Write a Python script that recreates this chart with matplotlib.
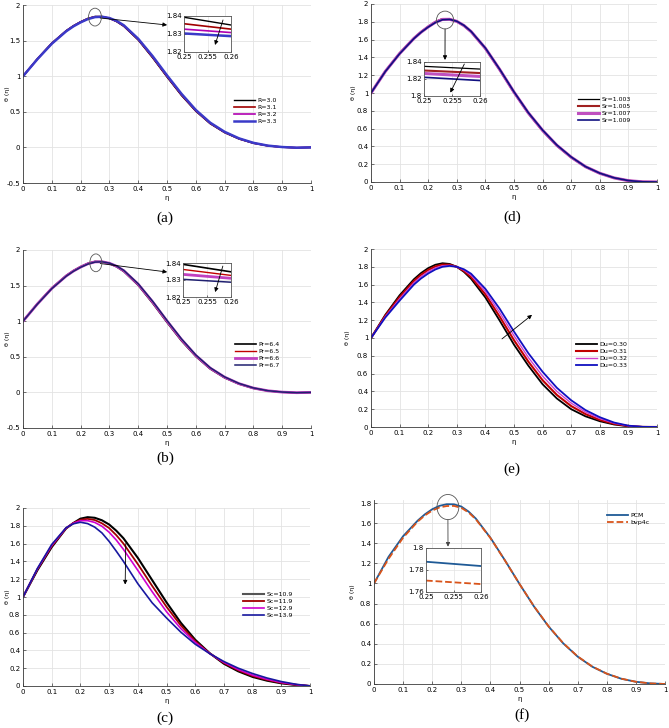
import numpy as np
import matplotlib
matplotlib.use("Agg")
import matplotlib.pyplot as plt
from matplotlib.patches import Ellipse
from matplotlib.ticker import FuncFormatter

# eta grid shared by all panels (denser around the peak)
eta = [0.00, 0.05, 0.10, 0.15, 0.175, 0.20, 0.225, 0.25, 0.275, 0.30, 0.325, 0.35, 0.40,
       0.45, 0.50, 0.55, 0.60, 0.65, 0.70, 0.75, 0.80, 0.85, 0.90, 0.95, 1.00]

# (a) radiation parameter R
labels_R = ["R=3.0", "R=3.1", "R=3.2", "R=3.3"]
theta_R30 = [1.000, 1.245, 1.465, 1.640, 1.709, 1.765, 1.812, 1.839, 1.837, 1.811, 1.766, 1.700, 1.508, 1.258, 0.988, 0.730, 0.508, 0.332, 0.207, 0.118, 0.058, 0.022, 0.003, -0.005, 0.000]
theta_R31 = [1.000, 1.243, 1.462, 1.637, 1.706, 1.762, 1.808, 1.836, 1.836, 1.813, 1.770, 1.705, 1.514, 1.266, 0.996, 0.738, 0.514, 0.337, 0.211, 0.121, 0.060, 0.023, 0.004, -0.005, 0.000]
theta_R32 = [1.000, 1.241, 1.459, 1.634, 1.703, 1.759, 1.805, 1.833, 1.835, 1.815, 1.773, 1.710, 1.520, 1.274, 1.004, 0.746, 0.520, 0.342, 0.215, 0.124, 0.062, 0.024, 0.004, -0.004, 0.000]
theta_R33 = [1.000, 1.239, 1.456, 1.631, 1.700, 1.756, 1.802, 1.830, 1.835, 1.817, 1.777, 1.715, 1.526, 1.282, 1.012, 0.754, 0.526, 0.347, 0.219, 0.127, 0.064, 0.025, 0.005, -0.004, 0.000]

# (b) Prandtl number Pr
labels_Pr = ["Pr=6.4", "Pr=6.5", "Pr=6.6", "Pr=6.7"]
theta_Pr64 = [1.000, 1.246, 1.466, 1.641, 1.710, 1.766, 1.812, 1.839, 1.836, 1.810, 1.764, 1.698, 1.505, 1.254, 0.984, 0.726, 0.505, 0.330, 0.205, 0.117, 0.057, 0.021, 0.003, -0.005, 0.000]
theta_Pr65 = [1.000, 1.244, 1.463, 1.638, 1.707, 1.763, 1.809, 1.836, 1.835, 1.812, 1.769, 1.704, 1.512, 1.263, 0.993, 0.735, 0.512, 0.336, 0.210, 0.120, 0.059, 0.022, 0.004, -0.005, 0.000]
theta_Pr66 = [1.000, 1.242, 1.460, 1.635, 1.704, 1.760, 1.806, 1.833, 1.835, 1.814, 1.772, 1.709, 1.519, 1.272, 1.002, 0.744, 0.519, 0.341, 0.214, 0.123, 0.061, 0.023, 0.004, -0.004, 0.000]
theta_Pr67 = [1.000, 1.240, 1.457, 1.632, 1.701, 1.757, 1.802, 1.830, 1.834, 1.816, 1.776, 1.714, 1.526, 1.281, 1.011, 0.753, 0.526, 0.347, 0.218, 0.126, 0.063, 0.024, 0.005, -0.004, 0.000]

# (c) Schmidt number Sc
labels_Sc = ["Sc=10.9", "Sc=11.9", "Sc=12.9", "Sc=13.9"]
theta_Sc109 = [1.000, 1.300, 1.560, 1.770, 1.830, 1.880, 1.897, 1.890, 1.862, 1.815, 1.745, 1.660, 1.440, 1.190, 0.940, 0.710, 0.520, 0.370, 0.250, 0.165, 0.102, 0.060, 0.030, 0.012, 0.000]
theta_Sc119 = [1.000, 1.310, 1.570, 1.772, 1.830, 1.868, 1.878, 1.865, 1.828, 1.775, 1.695, 1.600, 1.370, 1.125, 0.890, 0.680, 0.505, 0.368, 0.258, 0.175, 0.112, 0.068, 0.035, 0.014, 0.000]
theta_Sc129 = [1.000, 1.315, 1.580, 1.775, 1.828, 1.857, 1.858, 1.838, 1.795, 1.728, 1.640, 1.535, 1.300, 1.060, 0.835, 0.645, 0.490, 0.366, 0.266, 0.185, 0.122, 0.076, 0.040, 0.016, 0.000]
theta_Sc139 = [1.000, 1.320, 1.590, 1.778, 1.822, 1.840, 1.825, 1.785, 1.720, 1.625, 1.515, 1.400, 1.150, 0.935, 0.765, 0.605, 0.470, 0.365, 0.275, 0.200, 0.140, 0.090, 0.050, 0.020, 0.000]

# (d) Soret number Sr
labels_Sr = ["Sr=1.003", "Sr=1.005", "Sr=1.007", "Sr=1.009"]
theta_Sr1003 = [1.000, 1.244, 1.447, 1.617, 1.687, 1.747, 1.801, 1.835, 1.832, 1.803, 1.754, 1.686, 1.496, 1.258, 1.004, 0.771, 0.574, 0.406, 0.275, 0.170, 0.096, 0.045, 0.014, 0.002, 0.000]
theta_Sr1005 = [1.000, 1.243, 1.445, 1.615, 1.685, 1.745, 1.798, 1.831, 1.830, 1.804, 1.756, 1.688, 1.499, 1.261, 1.007, 0.774, 0.577, 0.409, 0.277, 0.171, 0.097, 0.046, 0.015, 0.002, 0.000]
theta_Sr1007 = [1.000, 1.242, 1.443, 1.613, 1.683, 1.743, 1.795, 1.827, 1.828, 1.805, 1.758, 1.690, 1.502, 1.264, 1.010, 0.777, 0.580, 0.412, 0.279, 0.172, 0.098, 0.046, 0.015, 0.002, 0.000]
theta_Sr1009 = [1.000, 1.241, 1.441, 1.611, 1.682, 1.741, 1.791, 1.823, 1.827, 1.806, 1.760, 1.692, 1.505, 1.267, 1.013, 0.780, 0.583, 0.415, 0.281, 0.173, 0.099, 0.047, 0.016, 0.002, 0.000]

# (e) Dufour number Du
labels_Du = ["Du=0.30", "Du=0.31", "Du=0.32", "Du=0.33"]
theta_Du30 = [1.000, 1.260, 1.480, 1.660, 1.730, 1.785, 1.823, 1.840, 1.832, 1.800, 1.743, 1.665, 1.455, 1.195, 0.925, 0.690, 0.480, 0.320, 0.200, 0.120, 0.065, 0.028, 0.008, 0.001, 0.000]
theta_Du31 = [1.000, 1.250, 1.460, 1.640, 1.710, 1.765, 1.804, 1.825, 1.823, 1.800, 1.753, 1.685, 1.490, 1.240, 0.975, 0.735, 0.525, 0.360, 0.235, 0.145, 0.080, 0.036, 0.011, 0.001, 0.000]
theta_Du32 = [1.000, 1.240, 1.440, 1.620, 1.690, 1.745, 1.787, 1.812, 1.816, 1.800, 1.763, 1.705, 1.522, 1.285, 1.025, 0.782, 0.572, 0.400, 0.268, 0.168, 0.095, 0.043, 0.013, 0.002, 0.000]
theta_Du33 = [1.000, 1.230, 1.420, 1.600, 1.669, 1.725, 1.770, 1.800, 1.810, 1.800, 1.772, 1.722, 1.552, 1.328, 1.072, 0.830, 0.620, 0.440, 0.300, 0.190, 0.110, 0.050, 0.015, 0.002, 0.000]

# (f) method comparison
labels_method = ["PCM", "bvp4c"]
theta_pcm = [1.000, 1.265, 1.470, 1.625, 1.688, 1.738, 1.772, 1.788, 1.787, 1.765, 1.715, 1.645, 1.455, 1.230, 0.995, 0.770, 0.572, 0.405, 0.272, 0.172, 0.102, 0.052, 0.022, 0.006, 0.000]
theta_bvp = [1.000, 1.245, 1.455, 1.615, 1.677, 1.725, 1.756, 1.770, 1.771, 1.752, 1.706, 1.638, 1.452, 1.228, 0.995, 0.772, 0.574, 0.407, 0.274, 0.174, 0.103, 0.053, 0.022, 0.006, 0.000]

# zoomed windows (eta = 0.25 ... 0.26)
eta_zoom = [0.25, 0.26]
zoom_R = [[1.8393, 1.8350], [1.8357, 1.8327], [1.8327, 1.8308], [1.8303, 1.8288]]
zoom_Pr = [[1.8392, 1.8348], [1.8362, 1.8327], [1.8333, 1.8310], [1.8304, 1.8287]]
zoom_Sr = [[1.8349, 1.8317], [1.8300, 1.8270], [1.8265, 1.8230], [1.8220, 1.8182]]
zoom_method = [[1.7875, 1.7836], [1.7704, 1.7672]]

W, H = 669, 728
fig = plt.figure(figsize=(W / 100, H / 100), dpi=100)
fmt = FuncFormatter(lambda v, _: f"{v:g}")
GRID = "#e3e3e3"
AXC = "#3a3a3a"


def add_axes(l, t, r, b):
    # pixel box (top-left origin) -> figure fraction
    return fig.add_axes([l / W, 1 - b / H, (r - l) / W, (b - t) / H])


def style(ax, yticks, ylim, ylab_x):
    ax.set_xlim(0, 1)
    ax.set_xticks(np.arange(0, 1.001, 0.1))
    ax.set_ylim(*ylim)
    ax.set_yticks(yticks)
    ax.xaxis.set_major_formatter(fmt)
    ax.yaxis.set_major_formatter(fmt)
    for s in ["top", "right"]:
        ax.spines[s].set_visible(False)
    for s in ["left", "bottom"]:
        ax.spines[s].set_color(AXC)
        ax.spines[s].set_linewidth(0.6)
    ax.grid(True, color=GRID, lw=0.6)
    ax.set_axisbelow(True)
    ax.tick_params(labelsize=5, length=2, width=0.5, direction="in", color=AXC, pad=2)
    ax.set_xlabel("η", fontsize=5, labelpad=2)
    ax.set_ylabel("θ (η)", fontsize=4.5)
    ax.yaxis.set_label_coords(ylab_x, 0.5)


def inset(box, series, colors, widths, ylim, yticks, styles=None):
    axi = add_axes(*box)
    for i, (ys, c, w) in enumerate(zip(series, colors, widths)):
        ls = styles[i] if styles else "-"
        axi.plot(eta_zoom, ys, color=c, lw=w, ls=ls)
    axi.set_xlim(0.25, 0.26)
    axi.set_xticks([0.25, 0.255, 0.26])
    axi.set_ylim(*ylim)
    axi.set_yticks(yticks)
    axi.xaxis.set_major_formatter(fmt)
    axi.yaxis.set_major_formatter(fmt)
    for s in axi.spines.values():
        s.set_color("#555555")
        s.set_linewidth(0.6)
    axi.grid(True, color=GRID, lw=0.5)
    axi.tick_params(labelsize=5, length=1.5, width=0.4, direction="in", pad=1.5)
    return axi


def legend(ax, x, y):
    ax.legend(loc="upper left", bbox_to_anchor=(x / W, 1 - y / H), bbox_transform=fig.transFigure,
              frameon=False, fontsize=4.5, handlelength=3.4, handletextpad=0.4,
              labelspacing=0.25, borderpad=0, borderaxespad=0)


def arrow(ax, start, end, end_coords="data", color="k"):
    ax.annotate("", xy=end, xycoords=end_coords, xytext=start, textcoords="data",
                arrowprops=dict(arrowstyle="-|>", lw=0.6, color=color, mutation_scale=6,
                                shrinkA=0, shrinkB=0), annotation_clip=False)


def circle(ax, xy, w, h):
    ax.add_patch(Ellipse(xy, w, h, fill=False, ec="#555555", lw=0.6, zorder=5, clip_on=False))


def draw(ax, series, labels, colors, widths, styles=None):
    for i, (ys, lab, c, w) in enumerate(zip(series, labels, colors, widths)):
        ls = styles[i] if styles else "-"
        ax.plot(eta, ys, color=c, lw=w, ls=ls, label=lab)


# ---- (a)
ax = add_axes(23, 5, 311, 183)
col_a = ["#000000", "#a00000", "#b000b0", "#3a3ac8"]
wid_a = [1.0, 1.2, 1.2, 1.8]
draw(ax, [theta_R30, theta_R31, theta_R32, theta_R33], labels_R, col_a, wid_a)
style(ax, np.arange(-0.5, 2.01, 0.5), (-0.5, 2), -0.045)
legend(ax, 234, 98)
circle(ax, (0.25, 1.83), 0.045, 0.25)
axi = inset((184, 16, 231, 52), zoom_R, col_a, wid_a, (1.82, 1.84), [1.82, 1.83, 1.84])
arrow(ax, (0.268, 1.817), (-0.36, 0.75), axi.transAxes)
arrow(axi, (0.2583, 1.8378), (0.2566, 1.8239))

# ---- (b)
ax = add_axes(23, 250, 311, 428)
col_b = ["#000000", "#c00000", "#c040c0", "#202070"]
wid_b = [1.2, 1.0, 2.0, 1.1]
draw(ax, [theta_Pr64, theta_Pr65, theta_Pr66, theta_Pr67], labels_Pr, col_b, wid_b)
style(ax, np.arange(-0.5, 2.01, 0.5), (-0.5, 2), -0.045)
legend(ax, 235, 342)
circle(ax, (0.253, 1.82), 0.042, 0.25)
axi = inset((183, 263, 231, 297), zoom_Pr, col_b, wid_b, (1.82, 1.84), [1.82, 1.83, 1.84])
arrow(ax, (0.268, 1.81), (-0.33, 0.735), axi.transAxes)
arrow(axi, (0.2583, 1.8382), (0.2567, 1.8229))

# ---- (c)
ax = add_axes(23, 508, 310, 686)
col_c = ["#000000", "#a00000", "#d000d0", "#1818a0"]
wid_c = [1.5, 1.3, 1.2, 1.2]
draw(ax, [theta_Sc109, theta_Sc119, theta_Sc129, theta_Sc139], labels_Sc, col_c, wid_c)
style(ax, np.arange(0, 2.01, 0.2), (0, 2), -0.045)
legend(ax, 243, 592)
ax.get_legend().get_lines()[0].set_color("#555555")
arrow(ax, (0.358, 1.6), (0.356, 1.14))

# ---- (d)
ax = add_axes(371, 4, 657, 182)
col_d = ["#000000", "#a02020", "#c050c0", "#101080"]
wid_d = [0.9, 1.5, 2.2, 1.2]
draw(ax, [theta_Sr1003, theta_Sr1005, theta_Sr1007, theta_Sr1009], labels_Sr, col_d, wid_d)
style(ax, np.arange(0, 2.01, 0.2), (0, 2), -0.052)
legend(ax, 578, 97)
circle(ax, (0.259, 1.82), 0.06, 0.2)
axi = inset((424, 62, 480, 96), zoom_Sr, col_d, wid_d, (1.80, 1.84), [1.80, 1.82, 1.84])
arrow(ax, (0.259, 1.72), (0.375, 1.06), axi.transAxes)
arrow(axi, (0.2572, 1.8376), (0.2547, 1.804))

# ---- (e)
ax = add_axes(371, 249, 657, 427)
col_e = ["#000000", "#c00000", "#d040d0", "#1010c0"]
wid_e = [1.3, 1.5, 1.0, 1.3]
draw(ax, [theta_Du30, theta_Du31, theta_Du32, theta_Du33], labels_Du, col_e, wid_e)
style(ax, np.arange(0, 2.01, 0.2), (0, 2), -0.075)
legend(ax, 576, 342)
arrow(ax, (0.458, 0.99), (0.563, 1.26))

# ---- (f)
ax = add_axes(374, 500, 665, 684)
col_f = ["#1f5a96", "#d9541a"]
wid_f = [1.3, 1.3]
draw(ax, [theta_pcm, theta_bvp], labels_method, col_f, wid_f, styles=["-", "--"])
style(ax, np.arange(0, 1.81, 0.2), (0, 1.83), -0.065)
legend(ax, 607, 513)
circle(ax, (0.254, 1.76), 0.075, 0.25)
axi = inset((426, 548, 481, 592), zoom_method, col_f, wid_f, (1.76, 1.80), [1.76, 1.78, 1.80],
            styles=["-", "--"])
arrow(ax, (0.254, 1.635), (0.4, 1.03), axi.transAxes, color="#444444")

# panel captions
caps = [("(a)", 165, 218), ("(b)", 165, 458), ("(c)", 165, 718),
        ("(d)", 512, 217), ("(e)", 512, 469), ("(f)", 522, 715)]
for txt, x, y in caps:
    fig.text(x / W, 1 - y / H, txt, ha="center", va="center", fontsize=11, family="Liberation Serif")

fig.savefig("out.png", dpi=100)
